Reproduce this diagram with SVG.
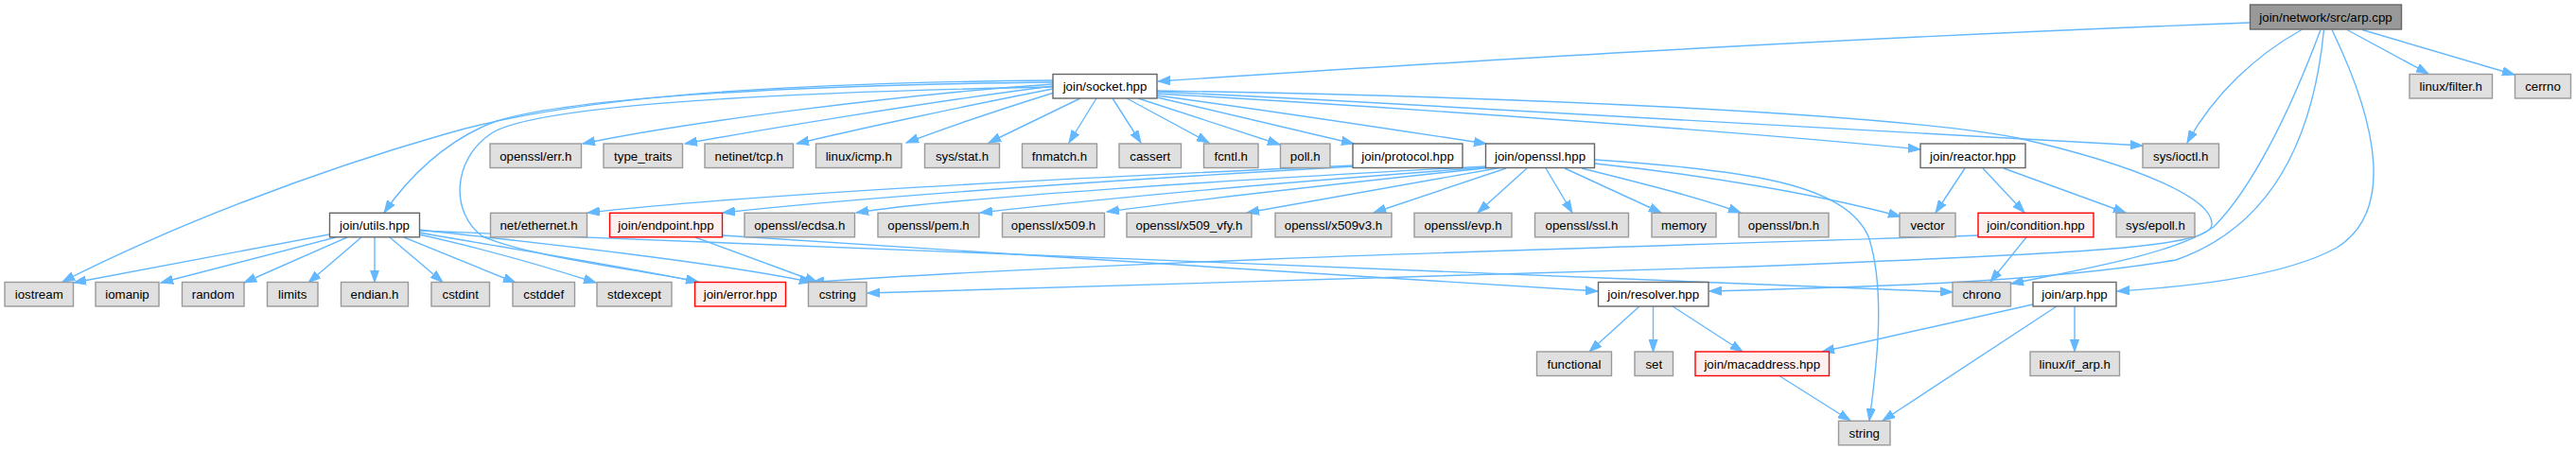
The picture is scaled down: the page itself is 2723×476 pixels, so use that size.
<svg xmlns="http://www.w3.org/2000/svg" width="2723" height="476" viewBox="0 0 2723 476">
<style>
rect{stroke-width:1.4}
.n rect{fill:#e0e0e0;stroke:#999999}
.d rect{fill:#ffffff;stroke:#666666}
.r rect{fill:#fff0f0;stroke:#ff0000}
.root rect{fill:#999999;stroke:#666666}
text{font-family:"Liberation Sans",Arial,Helvetica,sans-serif;font-size:13.3px;fill:#000;text-anchor:middle}
#edges path{fill:none;stroke:#63b8ff;stroke-width:1.4;marker-end:url(#a)}
</style>
<defs>
<marker id="a" markerWidth="14" markerHeight="10" refX="13" refY="5" orient="auto" markerUnits="userSpaceOnUse"><path d="M0,0.4 L13,5 L0,9.6 z" fill="#63b8ff" stroke="#63b8ff" stroke-width="1"/></marker>
</defs>
<rect width="2723" height="476" fill="#ffffff"/>
<g id="edges">
<path d="M2378,24 C1900,42 1500,68 1224,86"/>
<path d="M2433,31.5 C2385,58 2340,100 2312,151"/>
<path d="M2481,31.5 L2567,78"/>
<path d="M2497,31.5 L2658,79"/>
<path d="M2465,31.5 C2515,135 2530,225 2470,262 C2410,295 2300,304 2238,308"/>
<path d="M2453,31.5 C2420,120 2380,200 2340,240 C2300,268 2200,285 2126,300"/>
<path d="M2456.5,31.5 C2445,150 2400,240 2300,275 C2150,300 1950,304 1807,308"/>
<path d="M1113,89 C950,100 720,130 616,152"/>
<path d="M1113,91 C980,108 800,138 724,152"/>
<path d="M1113,94 C1020,112 900,138 842,152"/>
<path d="M1114,98 C1060,115 1000,135 958,151"/>
<path d="M1142,104 L1045,151"/>
<path d="M1159,104 L1130,151"/>
<path d="M1176,104 L1206,151"/>
<path d="M1191,104 L1278,151"/>
<path d="M1203,104 L1353,153"/>
<path d="M1223,103 L1431,152"/>
<path d="M1223,101 C1350,118 1480,138 1571,152"/>
<path d="M1223,99 C1500,115 1850,140 2030,158"/>
<path d="M1223,97 C1600,115 2000,138 2265,154"/>
<path d="M1223,96 C1600,102 2000,120 2133,146 C2260,175 2340,210 2338,238 C2335,262 2200,268 1850,282 C1400,298 1100,306 917,310"/>
<path d="M1113,87 C850,90 610,102 525,128 C470,148 430,190 406,225"/>
<path d="M1113,85 C800,88 600,104 470,142 C330,182 180,240 66,298"/>
<path d="M1113,92 C800,98 560,112 518,142 C478,170 476,225 510,250 C560,272 680,286 738,298"/>
<path d="M1572,176 C1300,190 1000,210 905,225"/>
<path d="M1574,177 C1350,193 1150,212 1036,225"/>
<path d="M1578,177 C1400,196 1250,213 1170,224"/>
<path d="M1588,177 L1318,225"/>
<path d="M1592,178 L1452,225"/>
<path d="M1614,178 L1562,225"/>
<path d="M1634,178 L1662,225"/>
<path d="M1654,178 L1756,225"/>
<path d="M1672,178 C1740,195 1800,210 1840,225"/>
<path d="M1686,173 C1800,185 1920,205 2009,229"/>
<path d="M1686,169 C1850,180 1950,195 1975,250 C1995,310 1982,400 1976,445"/>
<path d="M1431,175 C1100,190 800,205 621,225"/>
<path d="M1432,176 C1100,195 900,210 764,225"/>
<path d="M2077,178 L2046,225"/>
<path d="M2096,178 L2140,225"/>
<path d="M2118,178 L2247,225"/>
<path d="M2142,251 L2104,298"/>
<path d="M2091,249 C1700,262 1200,275 858,298.5"/>
<path d="M348,248 L78,299"/>
<path d="M355,251 L170,299"/>
<path d="M367,251 L258,299"/>
<path d="M382,251 L326,299"/>
<path d="M396,251 L396,298.5"/>
<path d="M412,251 L468,298.5"/>
<path d="M427,251 L545,299"/>
<path d="M443,248 C520,265 580,283 630,299"/>
<path d="M443,246 C550,265 680,285 738,298.5"/>
<path d="M443,243 C580,258 760,278 858,298.5"/>
<path d="M443,244 C900,262 1600,290 2064,309"/>
<path d="M735,251 L864,298.5"/>
<path d="M764,249 C1000,262 1400,292 1689,308"/>
<path d="M1733,324 L1680,372"/>
<path d="M1747.5,324 L1747.5,372"/>
<path d="M1768,324 L1842,372"/>
<path d="M2149,322 L1926,372"/>
<path d="M2174,324 L1990,445"/>
<path d="M2193,324 L2193,372"/>
<path d="M1880,397 L1956,445"/>
</g>
<g id="n_arpcpp" class="root"><rect x="2378.5" y="5" width="160" height="26"/><text x="2458.5" y="22.5">join/network/src/arp.cpp</text></g>
<g id="n_socket" class="d"><rect x="1113" y="78.5" width="110" height="25.5"/><text x="1168" y="96">join/socket.hpp</text></g>
<g id="n_filter" class="n"><rect x="2547" y="78.5" width="87.5" height="25.5"/><text x="2590.75" y="96">linux/filter.h</text></g>
<g id="n_cerrno" class="n"><rect x="2658.5" y="78.5" width="59" height="25.5"/><text x="2688" y="96">cerrno</text></g>
<g id="n_err" class="n"><rect x="518" y="152" width="96.5" height="25.5"/><text x="566.25" y="169.5">openssl/err.h</text></g>
<g id="n_typetraits" class="n"><rect x="638" y="152" width="83.5" height="25.5"/><text x="679.75" y="169.5">type_traits</text></g>
<g id="n_tcp" class="n"><rect x="745" y="152" width="93.5" height="25.5"/><text x="791.75" y="169.5">netinet/tcp.h</text></g>
<g id="n_icmp" class="n"><rect x="862.5" y="152" width="90.5" height="25.5"/><text x="907.75" y="169.5">linux/icmp.h</text></g>
<g id="n_stat" class="n"><rect x="977.5" y="152" width="79" height="25.5"/><text x="1017" y="169.5">sys/stat.h</text></g>
<g id="n_fnmatch" class="n"><rect x="1080.5" y="152" width="79" height="25.5"/><text x="1120" y="169.5">fnmatch.h</text></g>
<g id="n_cassert" class="n"><rect x="1183" y="152" width="65.5" height="25.5"/><text x="1215.75" y="169.5">cassert</text></g>
<g id="n_fcntl" class="n"><rect x="1272.5" y="152" width="57.5" height="25.5"/><text x="1301.25" y="169.5">fcntl.h</text></g>
<g id="n_poll" class="n"><rect x="1353.5" y="152" width="52.5" height="25.5"/><text x="1379.75" y="169.5">poll.h</text></g>
<g id="n_protocol" class="d"><rect x="1430" y="152" width="116" height="25.5"/><text x="1488" y="169.5">join/protocol.hpp</text></g>
<g id="n_openssl" class="d"><rect x="1570.5" y="152" width="115" height="25.5"/><text x="1628" y="169.5">join/openssl.hpp</text></g>
<g id="n_reactor" class="d"><rect x="2030" y="152" width="111" height="25.5"/><text x="2085.5" y="169.5">join/reactor.hpp</text></g>
<g id="n_ioctl" class="n"><rect x="2265" y="152" width="80.5" height="25.5"/><text x="2305.25" y="169.5">sys/ioctl.h</text></g>
<g id="n_utils" class="d"><rect x="348.5" y="225.3" width="95" height="25.5"/><text x="396" y="242.8">join/utils.hpp</text></g>
<g id="n_ethernet" class="n"><rect x="518.5" y="225.3" width="102" height="25.5"/><text x="569.5" y="242.8">net/ethernet.h</text></g>
<g id="n_endpoint" class="r"><rect x="644.5" y="225.3" width="119" height="25.5"/><text x="704" y="242.8">join/endpoint.hpp</text></g>
<g id="n_ecdsa" class="n"><rect x="787" y="225.3" width="116.5" height="25.5"/><text x="845.25" y="242.8">openssl/ecdsa.h</text></g>
<g id="n_pem" class="n"><rect x="928" y="225.3" width="107" height="25.5"/><text x="981.5" y="242.8">openssl/pem.h</text></g>
<g id="n_x509" class="n"><rect x="1059.5" y="225.3" width="108" height="25.5"/><text x="1113.5" y="242.8">openssl/x509.h</text></g>
<g id="n_x509vfy" class="n"><rect x="1191" y="225.3" width="132" height="25.5"/><text x="1257" y="242.8">openssl/x509_vfy.h</text></g>
<g id="n_x509v3" class="n"><rect x="1348" y="225.3" width="123" height="25.5"/><text x="1409.5" y="242.8">openssl/x509v3.h</text></g>
<g id="n_evp" class="n"><rect x="1495" y="225.3" width="103" height="25.5"/><text x="1546.5" y="242.8">openssl/evp.h</text></g>
<g id="n_ssl" class="n"><rect x="1622.5" y="225.3" width="99" height="25.5"/><text x="1672" y="242.8">openssl/ssl.h</text></g>
<g id="n_memory" class="n"><rect x="1746" y="225.3" width="68" height="25.5"/><text x="1780" y="242.8">memory</text></g>
<g id="n_bn" class="n"><rect x="1838" y="225.3" width="95" height="25.5"/><text x="1885.5" y="242.8">openssl/bn.h</text></g>
<g id="n_vector" class="n"><rect x="2008" y="225.3" width="59" height="25.5"/><text x="2037.5" y="242.8">vector</text></g>
<g id="n_condition" class="r"><rect x="2091" y="225.3" width="122" height="25.5"/><text x="2152" y="242.8">join/condition.hpp</text></g>
<g id="n_epoll" class="n"><rect x="2237" y="225.3" width="83" height="25.5"/><text x="2278.5" y="242.8">sys/epoll.h</text></g>
<g id="n_iostream" class="n"><rect x="5" y="298.5" width="72.5" height="25.5"/><text x="41.25" y="316">iostream</text></g>
<g id="n_iomanip" class="n"><rect x="101" y="298.5" width="67" height="25.5"/><text x="134.5" y="316">iomanip</text></g>
<g id="n_random" class="n"><rect x="192.5" y="298.5" width="65.5" height="25.5"/><text x="225.25" y="316">random</text></g>
<g id="n_limits" class="n"><rect x="282.5" y="298.5" width="53.5" height="25.5"/><text x="309.25" y="316">limits</text></g>
<g id="n_endian" class="n"><rect x="360.5" y="298.5" width="71" height="25.5"/><text x="396" y="316">endian.h</text></g>
<g id="n_cstdint" class="n"><rect x="456" y="298.5" width="61.5" height="25.5"/><text x="486.75" y="316">cstdint</text></g>
<g id="n_cstddef" class="n"><rect x="542" y="298.5" width="65.5" height="25.5"/><text x="574.75" y="316">cstddef</text></g>
<g id="n_stdexcept" class="n"><rect x="631" y="298.5" width="79" height="25.5"/><text x="670.5" y="316">stdexcept</text></g>
<g id="n_error" class="r"><rect x="734.5" y="298.5" width="96" height="25.5"/><text x="782.5" y="316">join/error.hpp</text></g>
<g id="n_cstring" class="n"><rect x="854.5" y="298.5" width="61.5" height="25.5"/><text x="885.25" y="316">cstring</text></g>
<g id="n_resolver" class="d"><rect x="1689.5" y="298.5" width="116.5" height="25.5"/><text x="1747.75" y="316">join/resolver.hpp</text></g>
<g id="n_chrono" class="n"><rect x="2064" y="298.5" width="61.5" height="25.5"/><text x="2094.75" y="316">chrono</text></g>
<g id="n_arphpp" class="d"><rect x="2149" y="298.5" width="88" height="25.5"/><text x="2193" y="316">join/arp.hpp</text></g>
<g id="n_functional" class="n"><rect x="1624.5" y="372" width="79" height="25.5"/><text x="1664" y="389.5">functional</text></g>
<g id="n_set" class="n"><rect x="1728" y="372" width="40.5" height="25.5"/><text x="1748.25" y="389.5">set</text></g>
<g id="n_macaddress" class="r"><rect x="1792" y="372" width="141.5" height="25.5"/><text x="1862.75" y="389.5">join/macaddress.hpp</text></g>
<g id="n_ifarp" class="n"><rect x="2146" y="372" width="94.5" height="25.5"/><text x="2193.25" y="389.5">linux/if_arp.h</text></g>
<g id="n_string" class="n"><rect x="1943.5" y="445.3" width="54.5" height="25.5"/><text x="1970.75" y="462.8">string</text></g>
</svg>
